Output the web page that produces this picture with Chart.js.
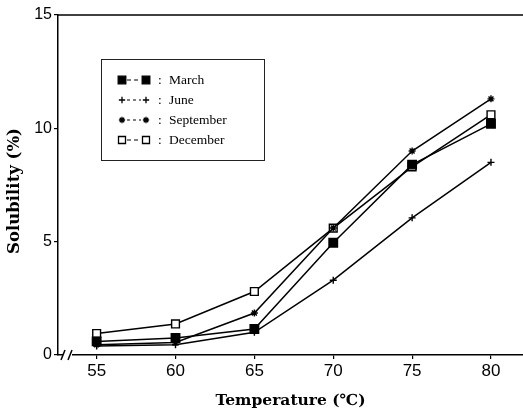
<!DOCTYPE html>
<html>
<head>
<meta charset="utf-8">
<script src="https://cdn.jsdelivr.net/npm/chart.js@4"></script>
<style>
html,body{margin:0;padding:0;background:#fff;}
#wrap{width:523px;height:410px;}
</style>
</head>
<body>
<div id="wrap"><canvas id="c" width="523" height="410"></canvas></div>
<script>
const temperatures = [55, 60, 65, 70, 75, 80];
const march     = [0.6, 0.75, 1.15, 4.95, 8.4, 10.2];
const june      = [0.4, 0.45, 1.0, 3.3, 6.05, 8.5];
const september = [0.45, 0.55, 1.85, 5.6, 9.0, 11.3];
const december  = [0.95, 1.37, 2.8, 5.6, 8.3, 10.6];
const seriesNames = ['March', 'June', 'September', 'December'];
const yTicks = [0, 5, 10, 15];
const xTicks = [55, 60, 65, 70, 75, 80];
const xTitle = 'Temperature (℃)';
const yTitle = 'Solubility (%)';

function pts(arr){ return temperatures.map((t,i)=>({x:t, y:arr[i]})); }

const styles = [
  {pointStyle:'rect', radius:6, bg:'#000', dash:[4,3]},
  {pointStyle:'cross', radius:3.5, bg:'#000', dash:[3,3]},
  {pointStyle:'star', radius:3.5, bg:'#000', dash:[3,3]},
  {pointStyle:'rect', radius:5.5, bg:'#fff', dash:[4,3]}
];
const seriesData = [march, june, september, december];

const datasets = seriesData.map((d,i)=>({
  label: seriesNames[i],
  data: pts(d),
  borderColor:'#000',
  borderWidth:1.5,
  pointStyle: styles[i].pointStyle,
  pointRadius: styles[i].radius,
  pointBackgroundColor: styles[i].bg,
  pointBorderColor:'#000',
  pointBorderWidth:1.4,
  tension:0,
  fill:false,
  clip:false
}));

const framePlugin = {
  id:'frame',
  beforeDraw(chart){
    const ctx = chart.ctx;
    ctx.save(); ctx.fillStyle='#fff'; ctx.fillRect(0,0,chart.width,chart.height); ctx.restore();
  },
  afterDraw(chart){
    const ctx = chart.ctx, a = chart.chartArea;
    const dp = Chart.helpers.drawPoint;
    ctx.save();
    // top frame line
    ctx.strokeStyle='#000'; ctx.lineWidth=1.5;
    ctx.beginPath(); ctx.moveTo(a.left, a.top); ctx.lineTo(chart.width, a.top); ctx.stroke();
    // axis break
    const y = a.bottom;
    ctx.fillStyle='#fff';
    ctx.fillRect(a.left+5, y-2, 9, 4);
    ctx.strokeStyle='#000'; ctx.lineWidth=1.5;
    [a.left+5, a.left+12].forEach(x=>{
      ctx.beginPath(); ctx.moveTo(x-2, y+5); ctx.lineTo(x+2, y-5); ctx.stroke();
    });
    // y title
    ctx.save();
    ctx.translate(19, (a.top + a.bottom)/2 + 6);
    ctx.rotate(-Math.PI/2);
    ctx.fillStyle='#000';
    ctx.font = 'bold 16.5px "DejaVu Serif", serif';
    ctx.textAlign='center'; ctx.textBaseline='alphabetic';
    ctx.fillText(yTitle, 0, 0);
    ctx.restore();
    // legend
    const lx = a.left + 43, ly = a.top + 44;
    ctx.lineWidth=1; ctx.strokeStyle='#222';
    ctx.strokeRect(lx+0.5, ly+0.5, 163, 101);
    ctx.font = '13.5px "Liberation Serif", "Times New Roman", serif';
    ctx.textBaseline='middle';
    seriesNames.forEach((name,i)=>{
      const yy = ly + 21 + i*20;
      const x1 = lx + 21, x2 = lx + 45;
      const ds = chart.data.datasets[i];
      ctx.setLineDash(styles[i].dash);
      ctx.lineWidth=1.2; ctx.strokeStyle='#000';
      ctx.beginPath(); ctx.moveTo(x1+5, yy); ctx.lineTo(x2-5, yy); ctx.stroke();
      ctx.setLineDash([]);
      [x1,x2].forEach(px=>{
        ctx.fillStyle = ds.pointBackgroundColor;
        ctx.strokeStyle = '#000'; ctx.lineWidth = 1.3;
        dp(ctx, {pointStyle: ds.pointStyle, radius: ds.pointRadius * 0.9, rotation:0, borderWidth:1.3}, px, yy);
      });
      ctx.fillStyle='#000';
      ctx.fillText(':', lx + 57, yy);
      ctx.fillText(name, lx + 68, yy);
    });
    ctx.restore();
  }
};

new Chart(document.getElementById('c'), {
  type:'line',
  data:{datasets},
  plugins:[framePlugin],
  options:{
    responsive:false,
    animation:false,
    devicePixelRatio:1,
    layout:{autoPadding:false, padding:{top:15,right:0,left:0,bottom:0}},
    plugins:{legend:{display:false}, tooltip:{enabled:false}},
    scales:{
      x:{
        type:'linear',
        min:52.55, max:82.03,
        afterBuildTicks(s){ s.ticks = xTicks.map(v=>({value:v})); },
        afterFit(s){ s.height = 55; s.paddingRight = 0; s.paddingLeft = 0; },
        grid:{display:true, drawOnChartArea:false, drawTicks:true, tickLength:4, color:'#000', lineWidth:1.2},
        border:{display:true, color:'#000', width:1.5},
        ticks:{color:'#000', font:{family:'"Liberation Sans", Arial, sans-serif', size:17}, padding:2, maxRotation:0},
        title:{display:true, text:xTitle, color:'#000', font:{family:'"DejaVu Serif", serif', size:15.5, weight:'bold'}, padding:{top:4,bottom:0}}
      },
      y:{
        type:'linear',
        min:0, max:15,
        afterBuildTicks(s){ s.ticks = yTicks.map(v=>({value:v})); },
        afterFit(s){ s.width = 58; },
        grid:{display:true, drawOnChartArea:false, drawTicks:true, tickLength:4, color:'#000', lineWidth:1.2},
        border:{display:true, color:'#000', width:1.5},
        ticks:{color:'#000', font:{family:'"Liberation Sans", Arial, sans-serif', size:16}, padding:2},
        title:{display:false}
      }
    }
  }
});
</script>
</body>
</html>
